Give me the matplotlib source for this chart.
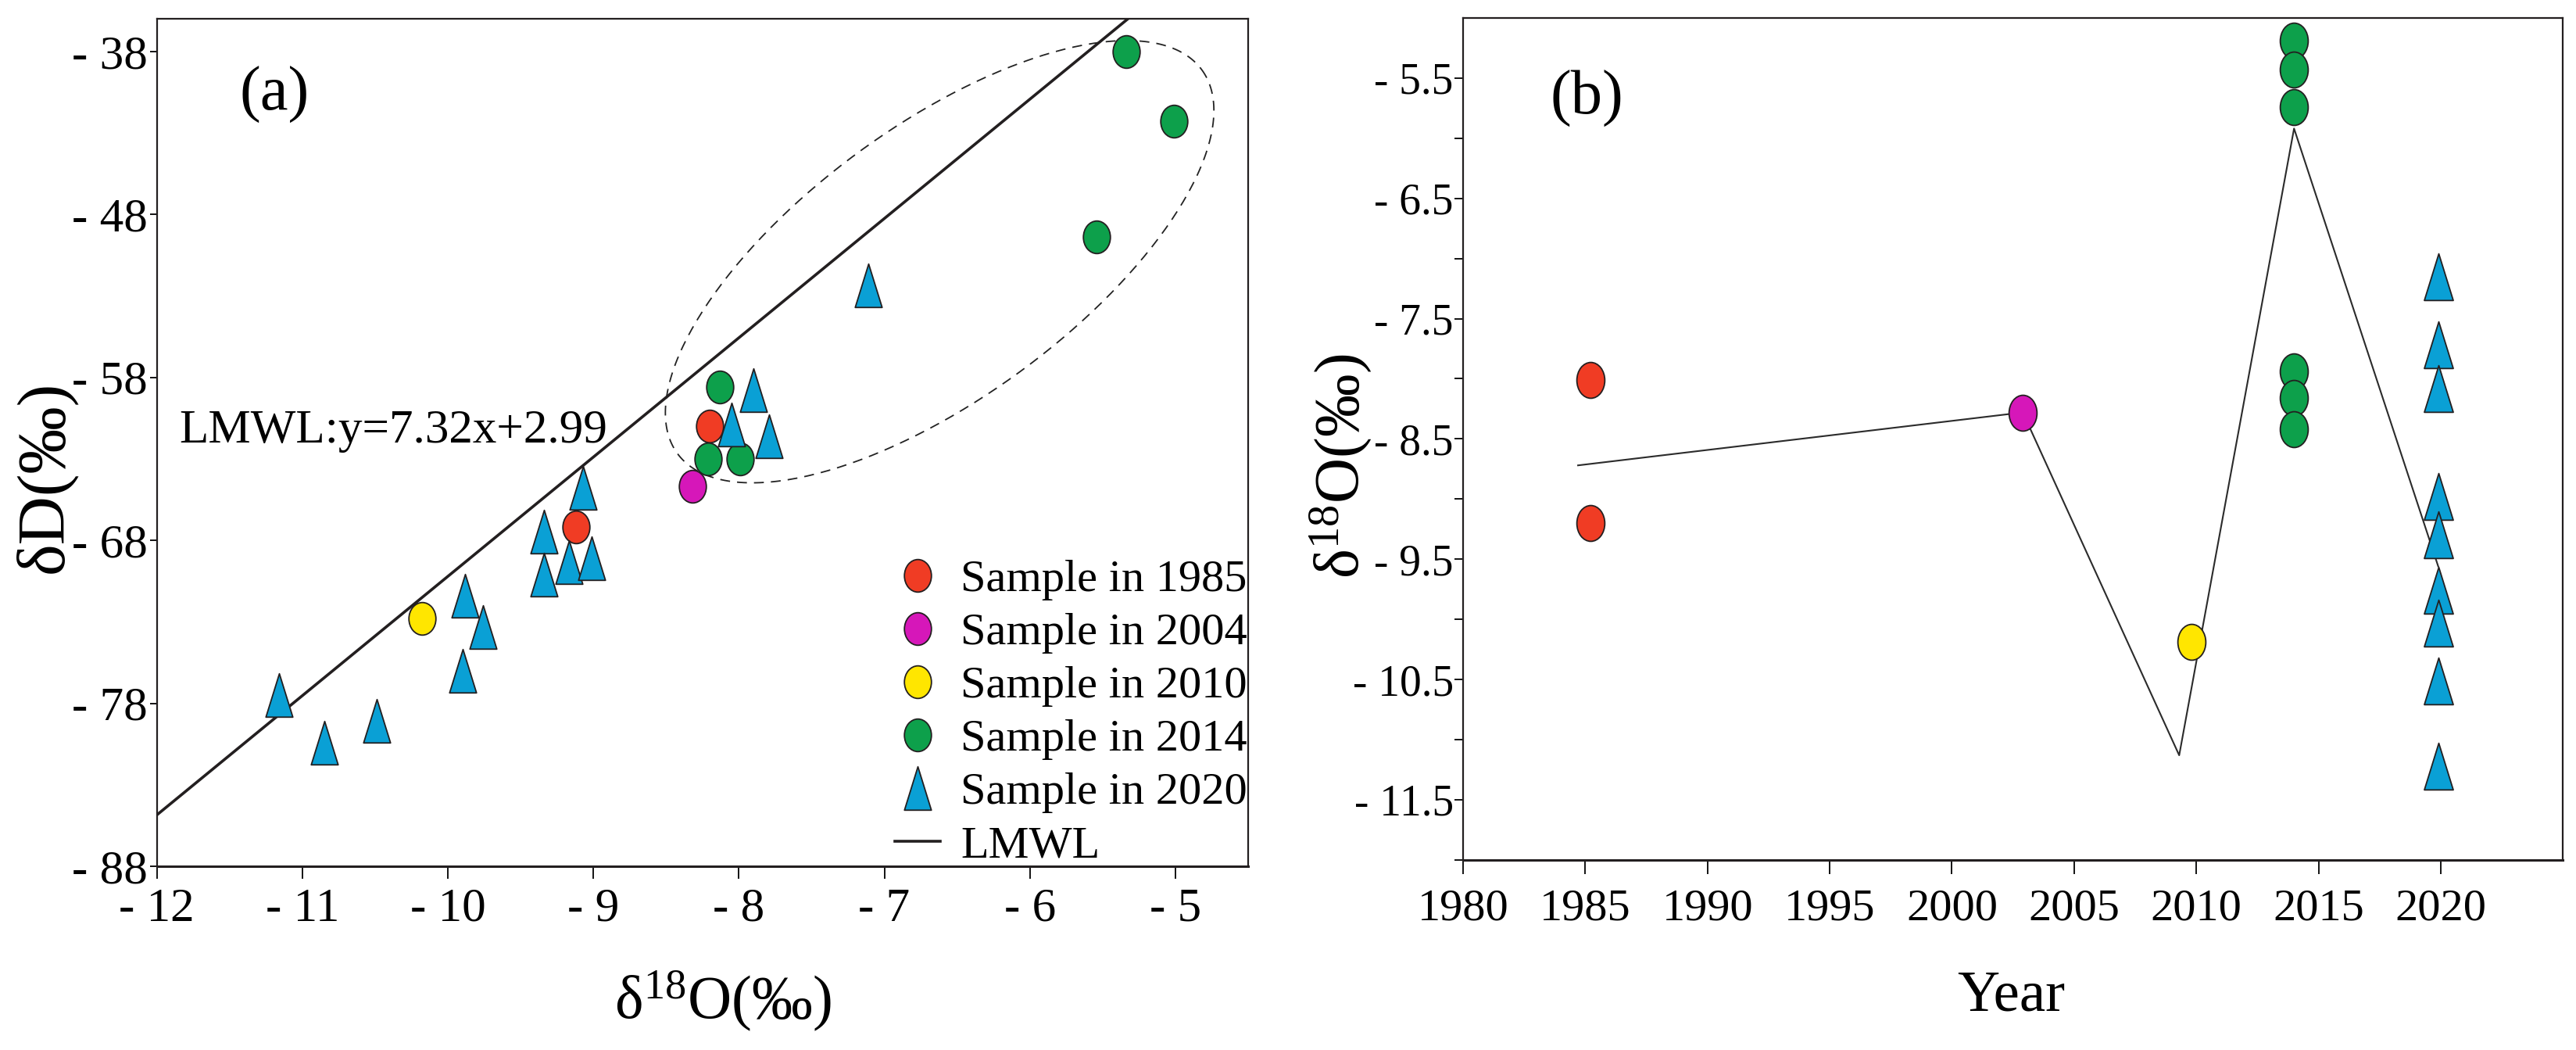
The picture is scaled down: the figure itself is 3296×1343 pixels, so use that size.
import numpy as np
import matplotlib
matplotlib.use("Agg")
import matplotlib.pyplot as plt
from matplotlib.path import Path
from matplotlib.transforms import Affine2D

plt.rcParams["font.family"] = ["Liberation Serif", "DejaVu Serif"]
plt.rcParams["mathtext.fontset"] = "custom"
plt.rcParams["mathtext.rm"] = "Liberation Serif"
plt.rcParams["mathtext.it"] = "Liberation Serif:italic"

# ---- panel (a): d18O vs dD ----
A_1985_X = [-9.12, -8.20]
A_1985_Y = [-67.2, -61.0]
A_2004_X = [-8.32]
A_2004_Y = [-64.7]
A_2010_X = [-10.18]
A_2010_Y = [-72.8]
A_2014_X = [-5.34, -5.01, -5.54, -8.13, -8.21, -7.99]
A_2014_Y = [-38.0, -42.3, -49.4, -58.6, -63.0, -63.0]
A_2020_X = [-11.16, -10.85, -10.49, -9.88, -9.76, -9.90, -9.34, -9.34,
            -9.17, -9.01, -9.07, -7.11, -7.90, -8.05, -7.79]
A_2020_Y = [-77.5, -80.4, -79.1, -71.4, -73.3, -76.0, -67.45, -70.1,
            -69.35, -69.1, -64.8, -52.35, -58.8, -60.9, -61.6]
LMWL_SLOPE = 7.32
LMWL_INTERCEPT = 2.99

A_XTICKS = [-12, -11, -10, -9, -8, -7, -6, -5]
A_YTICKS = [-38, -48, -58, -68, -78, -88]

# ---- panel (b): d18O by year ----
B_1985_YR = [1985.2, 1985.2]
B_1985_O = [-8.01, -9.20]
B_2004_YR = [2002.9]
B_2004_O = [-8.28]
B_2010_YR = [2009.8]
B_2010_O = [-10.19]
B_2014_YR = [2014.0] * 6
B_2014_O = [-5.19, -5.43, -5.74, -7.94, -8.16, -8.42]
B_2020_YR = [2019.9] * 9
B_2020_O = [-7.15, -7.72, -8.08, -8.98, -9.30, -9.76, -10.03, -10.51, -11.22]
TREND_YR = [1984.7, 2002.9, 2009.3, 2014.0, 2019.9]
TREND_O = [-8.72, -8.28, -11.13, -5.92, -9.56]

B_XTICKS = [1980, 1985, 1990, 1995, 2000, 2005, 2010, 2015, 2020]
B_YTICKS = [-5.5, -6.5, -7.5, -8.5, -9.5, -10.5, -11.5]
B_YMINOR = [-6, -7, -8, -9, -10, -11, -12]

LABELS = ["Sample in 1985", "Sample in 2004", "Sample in 2010",
          "Sample in 2014", "Sample in 2020"]
COLORS = ["#F03C24", "#D617B9", "#FFE600", "#0DA04B", "#0AA0D5"]
EDGE = "#231F20"

# dashed ellipse round the 2014 group (centre + two conjugate half axes, data units)
ELL_CENTER = (-6.62, -50.9)
ELL_U = (1.80, 11.8)
ELL_V = (0.56, -6.7)

# slightly tall markers, like the original
oval_a = Path.unit_circle().transformed(Affine2D().scale(0.83, 1.0))
oval_b = Path.unit_circle().transformed(Affine2D().scale(0.78, 1.0))
tri = Path([(0, 1), (-0.62, -1), (0.62, -1), (0, 1)],
           [Path.MOVETO, Path.LINETO, Path.LINETO, Path.CLOSEPOLY])

fig = plt.figure(figsize=(32.96, 13.43), dpi=100)
ax_a = fig.add_axes([0.0609, 0.175, 0.4236, 0.807])
ax_b = fig.add_axes([0.568, 0.181, 0.4269, 0.802])

# ---------- (a) ----------
xs = np.array([-12.0, -4.5])
lmwl, = ax_a.plot(xs, LMWL_SLOPE * xs + LMWL_INTERCEPT, color=EDGE, lw=2.6,
                  label="LMWL", zorder=2)

t = np.linspace(0, 2 * np.pi, 300)
ax_a.plot(ELL_CENTER[0] + ELL_U[0] * np.cos(t) + ELL_V[0] * np.sin(t),
          ELL_CENTER[1] + ELL_U[1] * np.cos(t) + ELL_V[1] * np.sin(t),
          ls=(0, (7, 5)), lw=1.3, color="#222222", zorder=1)

groups_a = [(A_1985_X, A_1985_Y), (A_2004_X, A_2004_Y), (A_2010_X, A_2010_Y),
            (A_2014_X, A_2014_Y), (A_2020_X, A_2020_Y)]
handles = []
for i, (gx, gy) in enumerate(groups_a):
    if i == 4:
        mk, ms = tri, 40
    else:
        mk, ms = oval_a, 30
    h, = ax_a.plot(gx, gy, ls="none", marker=mk, ms=ms, mfc=COLORS[i],
                   mec=EDGE, mew=1.3, label=LABELS[i], zorder=3)
    handles.append(h)
handles.append(lmwl)

ax_a.set_xlim(-12, -4.5)
ax_a.set_ylim(-88, -36)
ax_a.set_xticks(A_XTICKS, [f"- {abs(v)}" for v in A_XTICKS])
ax_a.set_yticks(A_YTICKS, [f"- {abs(v)}" for v in A_YTICKS])
ax_a.tick_params(axis="y", direction="out", length=6.5, width=1.3, pad=2,
                 labelsize=44)
ax_a.tick_params(axis="x", direction="out", length=11.5, width=1.3, pad=8,
                 labelsize=44)

ax_a.text(0.1076, 0.9105, "(a)", transform=ax_a.transAxes, fontsize=58,
          ha="center", va="center")
ax_a.text(0.2165, 0.514, "LMWL:y=7.32x+2.99", transform=ax_a.transAxes,
          fontsize=44, ha="center", va="center")

ax_a.set_ylabel("δD(‰)", fontsize=62)
ax_a.yaxis.set_label_coords(-0.102, 0.46)
ax_a.yaxis.label.set_va("center")
ax_a.set_xlabel(r"δ$^{\mathrm{18}}$O(‰)", fontsize=56)
ax_a.xaxis.set_label_coords(0.519, -0.16)
ax_a.xaxis.label.set_va("center")

ax_a.legend(handles=handles, loc="upper left", bbox_to_anchor=(0.676, 0.362),
            frameon=False, fontsize=42, borderpad=0, handlelength=1.0,
            handletextpad=0.45, labelspacing=0.26, numpoints=1,
            borderaxespad=0)

# ---------- (b) ----------
ax_b.plot(TREND_YR, TREND_O, color="#2B2B2B", lw=1.5, zorder=2)
groups_b = [(B_1985_YR, B_1985_O), (B_2004_YR, B_2004_O), (B_2010_YR, B_2010_O),
            (B_2014_YR, B_2014_O), (B_2020_YR, B_2020_O)]
for i, (gx, gy) in enumerate(groups_b):
    if i == 4:
        mk, ms = tri, 43
    else:
        mk, ms = oval_b, 33
    ax_b.plot(gx, gy, ls="none", marker=mk, ms=ms, mfc=COLORS[i],
              mec=EDGE, mew=1.3, zorder=3)

ax_b.set_xlim(1980, 2025)
ax_b.set_ylim(-12, -5)
ax_b.set_xticks(B_XTICKS, [str(v) for v in B_XTICKS])
ax_b.set_yticks(B_YTICKS, [f"- {abs(v)}" for v in B_YTICKS])
ax_b.set_yticks(B_YMINOR, minor=True)
ax_b.tick_params(axis="y", which="both", direction="out", length=8, width=1.3,
                 pad=1, labelsize=40)
ax_b.tick_params(axis="x", direction="out", length=13, width=1.3, pad=13,
                 labelsize=42)

ax_b.text(0.1123, 0.904, "(b)", transform=ax_b.transAxes, fontsize=58,
          ha="center", va="center")
ax_b.set_ylabel(r"δ$^{\mathrm{18}}$O(‰)", fontsize=58)
ax_b.yaxis.set_label_coords(-0.111, 0.468)
ax_b.yaxis.label.set_va("center")
ax_b.set_xlabel("Year", fontsize=54)
ax_b.xaxis.set_label_coords(0.498, -0.162)
ax_b.xaxis.label.set_va("center")

for ax in (ax_a, ax_b):
    for side in ax.spines.values():
        side.set_linewidth(1.6)
        side.set_color(EDGE)
    ax.spines["bottom"].set_linewidth(2.2)

fig.savefig("out.png", dpi=100, facecolor="white")
